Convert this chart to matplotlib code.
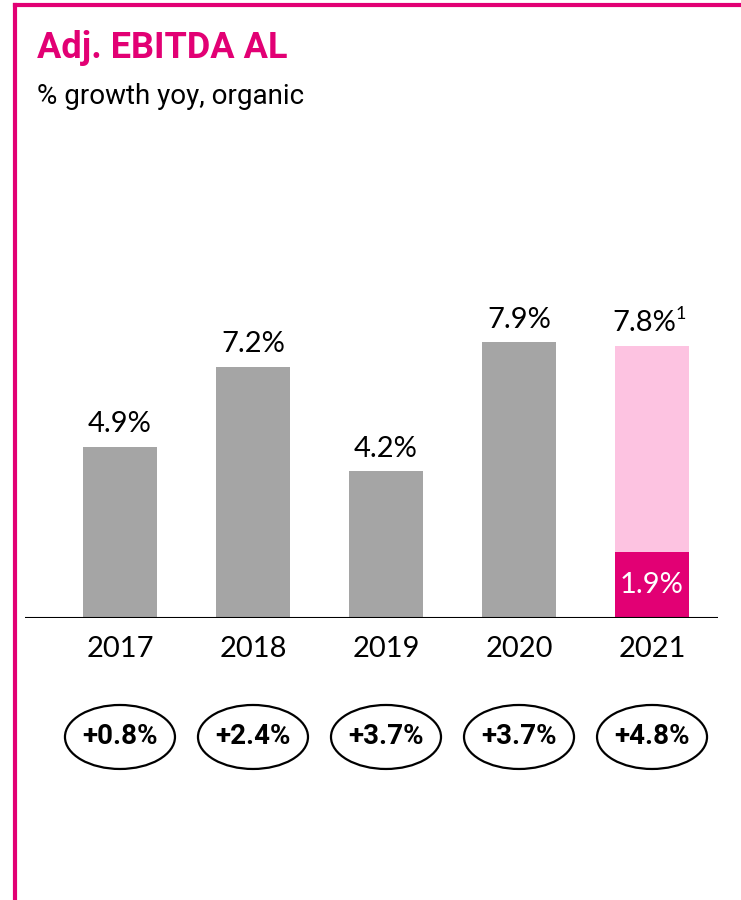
import matplotlib.pyplot as plt
from matplotlib.patches import Ellipse
from matplotlib.lines import Line2D

# ==============================
# DATA
# ==============================
years = ["2017", "2018", "2019", "2020", "2021"]
growth = [4.9, 7.2, 4.2, 7.9, 7.8]
growth_labels = ["4.9%", "7.2%", "4.2%", "7.9%", "7.8%"]
growth_2021_actual = 1.9
growth_2021_label = "1.9%"
bubble_labels = ["+0.8%", "+2.4%", "+3.7%", "+3.7%", "+4.8%"]

MAGENTA = "#E20074"
PINK = "#FDC3E1"
GREY = "#A5A5A5"

plt.rcParams['font.family'] = ['Lato', 'DejaVu Sans']

# ==============================
# FIGURE
# ==============================
fig = plt.figure(figsize=(7.41, 9), dpi=100)

# magenta frame (top + left)
fig.add_artist(Line2D([15 / 741, 1], [1 - 5 / 900, 1 - 5 / 900],
                      transform=fig.transFigure, color=MAGENTA, lw=3))
fig.add_artist(Line2D([15 / 741, 15 / 741], [0, 1 - 5 / 900],
                      transform=fig.transFigure, color=MAGENTA, lw=3))

fig.text(37 / 741, 1 - 48 / 900, "Adj. EBITDA AL", color=MAGENTA,
         fontsize=26, fontweight='bold', va='center', ha='left',
         family=['Roboto', 'DejaVu Sans'])
fig.text(37 / 741, 1 - 96 / 900, "% growth yoy, organic", color="black",
         fontsize=20, va='center', ha='left',
         family=['Roboto', 'DejaVu Sans'])

ax = fig.add_axes([25 / 741, 1 - 618 / 900, (718 - 25) / 741, 328 / 900])
x = list(range(len(years)))
width = 0.556

colors = [GREY, GREY, GREY, GREY, PINK]
ax.bar(x, growth, width=width, color=colors, zorder=2)
ax.bar([x[-1]], [growth_2021_actual], width=width, color=MAGENTA, zorder=3)

ax.set_xlim(-0.714, 4.496)
ax.set_ylim(0, 9.4)
ax.axhline(0, color="black", lw=1.5, zorder=4)

for s in ax.spines.values():
    s.set_visible(False)
ax.set_xticks([])
ax.set_yticks([])

for i, (xi, v, lab) in enumerate(zip(x, growth, growth_labels)):
    dx = -5.5 if i == len(x) - 1 else 0
    ax.annotate(lab, (xi, v), xytext=(dx, 7), textcoords='offset points',
                ha='center', va='bottom', fontsize=21)

# footnote marker on 2021
ax.annotate("1", (x[-1], growth[-1]), xytext=(17, 17),
            textcoords='offset points', ha='left', va='bottom', fontsize=13)

ax.text(x[-1], growth_2021_actual / 2, growth_2021_label, color="white",
        ha='center', va='center', fontsize=21, zorder=5)

for xi, yr in zip(x, years):
    ax.annotate(yr, (xi, 0), xytext=(0, -22), textcoords='offset points',
                ha='center', va='center', fontsize=21, annotation_clip=False)

# growth bubbles
for xi, lab in zip(x, bubble_labels):
    e = Ellipse((xi, -119 / 34.9), width=110 / 133, height=64 / 34.9,
                facecolor='white', edgecolor='black', lw=1.6, clip_on=False)
    ax.add_patch(e)
    ax.text(xi, -119 / 34.9, lab, ha='center', va='center', fontsize=20,
            fontweight='bold', family=['Roboto', 'DejaVu Sans'])

fig.savefig("out.png", dpi=100)
